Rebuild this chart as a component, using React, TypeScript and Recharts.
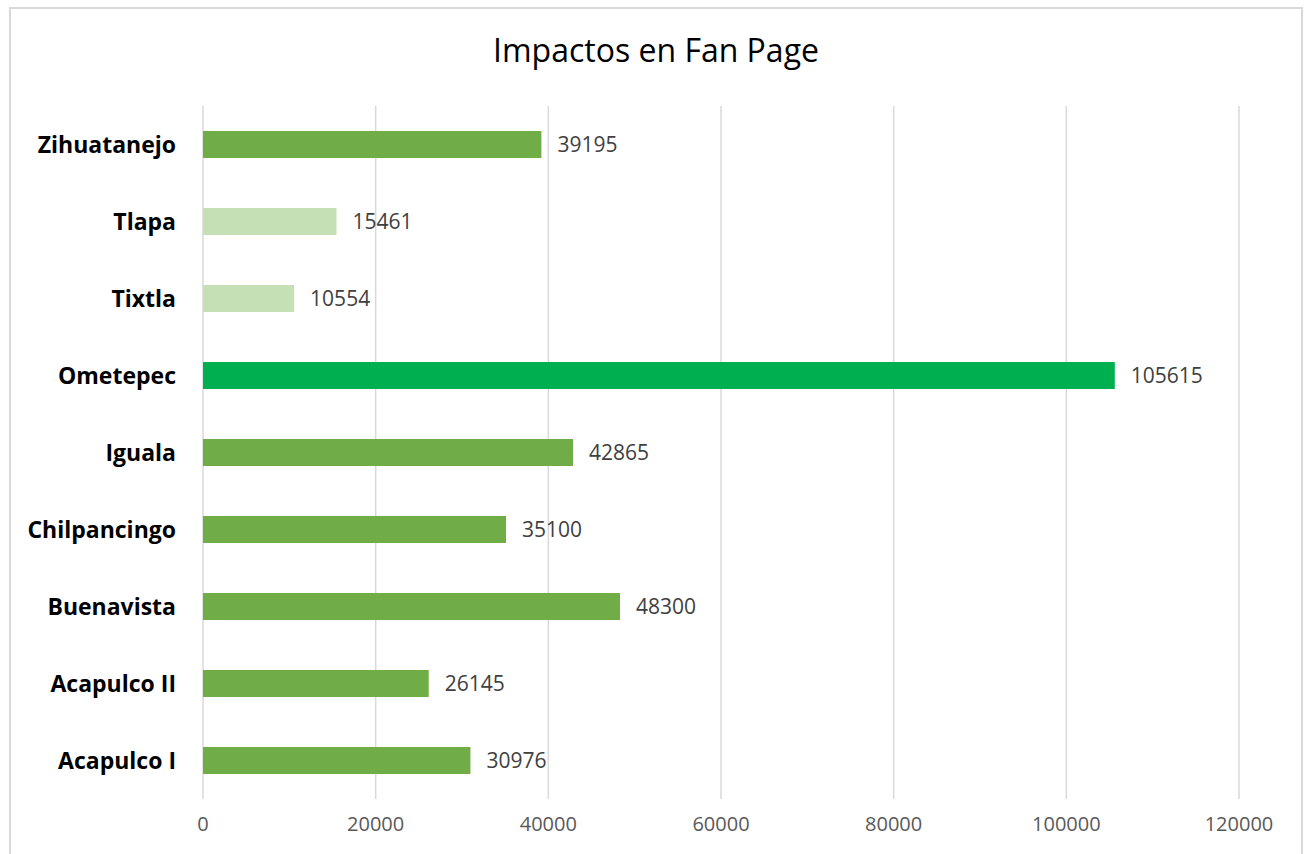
import React from "react";
import {
  BarChart,
  Bar,
  Cell,
  XAxis,
  YAxis,
  CartesianGrid,
  LabelList,
} from "recharts";

const categories = [
  "Acapulco I",
  "Acapulco II",
  "Buenavista",
  "Chilpancingo",
  "Iguala",
  "Ometepec",
  "Tixtla",
  "Tlapa",
  "Zihuatanejo",
];
const impactos = [30976, 26145, 48300, 35100, 42865, 105615, 10554, 15461, 39195];
const xTicks = [0, 20000, 40000, 60000, 80000, 100000, 120000];

const BASE = "#70AD47";
const LIGHT = "#C5E0B4";
const STRONG = "#00B050";
const barColors = [BASE, BASE, BASE, BASE, BASE, STRONG, LIGHT, LIGHT, BASE];

const FONT = "'Open Sans', 'Noto Sans', sans-serif";

const App = () => {
  const chartData = categories.map((name, i) => ({ name, impactos: impactos[i] }));

  return (
    <div style={{ position: "absolute", left: 0, top: 0, width: 1304, height: 854, background: "#fff", overflow: "hidden" }}>
      <div
        style={{
          position: "absolute",
          left: 9,
          top: 7,
          width: 1290,
          height: 860,
          border: "2px solid #d9d9d9",
        }}
      />
      <div
        style={{
          position: "absolute",
          left: 0,
          top: 28,
          width: 1312,
          textAlign: "center",
          fontFamily: FONT,
          fontSize: 32,
          color: "#000",
        }}
      >
        Impactos en Fan Page
      </div>
      <div style={{ position: "absolute", left: 0, top: 0 }}>
        <BarChart
          width={1304}
          height={854}
          data={chartData}
          layout="vertical"
          margin={{ top: 106, right: 65, bottom: 15, left: 10 }}
        >
          <CartesianGrid horizontal={false} stroke="#d9d9d9" strokeWidth={1.5} />
          <XAxis
            type="number"
            domain={[0, 120000]}
            ticks={xTicks}
            axisLine={false}
            tickLine={false}
            height={40}
            tickMargin={12}
            tick={{ fill: "#595959", fontSize: 20, fontFamily: FONT }}
          />
          <YAxis
            type="category"
            dataKey="name"
            reversed
            width={193}
            axisLine={false}
            tickLine={false}
            tickMargin={21}
            tick={{ fill: "#000", fontSize: 23, fontWeight: "bold", fontFamily: FONT }}
          />
          <Bar dataKey="impactos" barSize={27} isAnimationActive={false}>
            {chartData.map((entry, index) => (
              <Cell key={`cell-${index}`} fill={barColors[index]} />
            ))}
            <LabelList
              dataKey="impactos"
              position="right"
              offset={16}
              fill="#404040"
              fontSize={21}
              fontFamily={FONT}
            />
          </Bar>
        </BarChart>
      </div>
    </div>
  );
};

export default App;
